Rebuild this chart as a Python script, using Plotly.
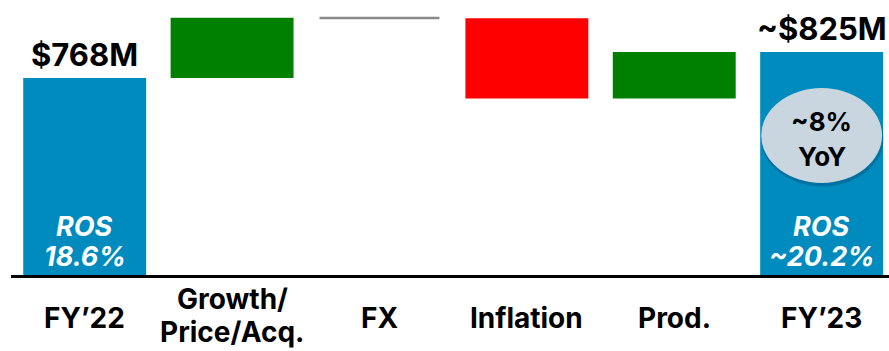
import plotly.graph_objects as go

# Operating income bridge, FY'22 -> FY'23 ($M)
categories = ["FY’22", "Growth/<br>Price/Acq.", "FX", "Inflation", "Prod.", "FY’23"]
start_value = 768
changes = [132, -1, -176, 102]           # Growth/Price/Acq., FX, Inflation, Prod.
end_value = 825
total_labels = ["$768M", "~$825M"]
ros_labels = ["18.6%", "~20.2%"]
yoy_label = "~8%"

BLUE = "#008BBF"
GREEN = "#008000"
RED = "#FF0000"
GRAY = "#8A8A8A"
FONT = "Inter"

# bar bases / heights from the running total
bases, heights, colors = [0], [start_value], [BLUE]
running = start_value
for i, c in enumerate(changes):
    bases.append(running)
    heights.append(c)
    if i == 1:
        colors.append(GRAY)
    else:
        colors.append(GREEN if c > 0 else RED)
    running += c
bases.append(0)
heights.append(end_value)
colors.append(BLUE)

widths = [0.834, 0.834, 0.80, 0.834, 0.834, 0.834]
line_w = [0, 0, 2, 0, 0, 0]

fig = go.Figure()
fig.add_trace(go.Bar(
    x=categories, y=heights, base=bases, width=widths,
    marker=dict(color=colors, line=dict(color=GRAY, width=line_w)),
    hoverinfo="skip",
))

y_min, y_max = 336, 939


def label(x, y, text, size, color="black", yref="y", yanchor="middle",
          yshift=0, style="normal"):
    return dict(x=x, y=y, xref="x", yref=yref, text=text, showarrow=False,
                yanchor=yanchor, yshift=yshift,
                font=dict(family=FONT, size=size, color=color,
                          weight="bold", style=style))


annotations = []
# totals above the end bars
for cat, val, txt in [(categories[0], start_value, total_labels[0]),
                      (categories[-1], end_value, total_labels[1])]:
    annotations.append(label(cat, val, txt, 31, yanchor="bottom", yshift=3))

# ROS inside the end bars (two tight lines)
for cat, txt in [(categories[0], ros_labels[0]), (categories[-1], ros_labels[1])]:
    annotations.append(label(cat, y_min, "ROS", 27, color="white",
                             yshift=49, style="italic"))
    annotations.append(label(cat, y_min, txt, 27, color="white",
                             yshift=19, style="italic"))

# category labels under the axis (one annotation per line)
for cat in categories:
    lines = cat.split("<br>")
    if len(lines) == 1:
        annotations.append(label(cat, 0, lines[0], 28, yref="paper", yshift=-43))
    else:
        annotations.append(label(cat, 0, lines[0], 28, yref="paper", yshift=-24))
        annotations.append(label(cat, 0, lines[1], 28, yref="paper", yshift=-57))

# YoY bubble
bubble_y0, bubble_y1 = 538, 746
bubble_mid = (bubble_y0 + bubble_y1) / 2
annotations.append(label(5, bubble_mid, yoy_label, 26, yshift=14))
annotations.append(label(5, bubble_mid, "YoY", 26, yshift=-21))

shapes = [
    # soft shadow under the bubble
    dict(type="circle", xref="x", yref="y", x0=5 - 0.41, x1=5 + 0.42,
         y0=bubble_y0 - 8, y1=bubble_y1 - 4, fillcolor="rgba(0,40,70,0.25)",
         line=dict(width=0), layer="above"),
    dict(type="circle", xref="x", yref="y", x0=5 - 0.41, x1=5 + 0.41,
         y0=bubble_y0, y1=bubble_y1, fillcolor="#C9D6DF",
         line=dict(width=0), layer="above"),
]

fig.update_layout(
    width=889, height=351,
    margin=dict(l=11, r=0, t=0, b=76),
    paper_bgcolor="white", plot_bgcolor="white",
    showlegend=False,
    xaxis=dict(range=[-0.5, 5.457], showticklabels=False, showgrid=False,
               zeroline=False, showline=True, linecolor="black", linewidth=3,
               ticks="", fixedrange=True),
    yaxis=dict(range=[y_min, y_max], visible=False, showgrid=False, fixedrange=True),
    annotations=annotations,
    shapes=shapes,
)

fig.write_html("out.html")
